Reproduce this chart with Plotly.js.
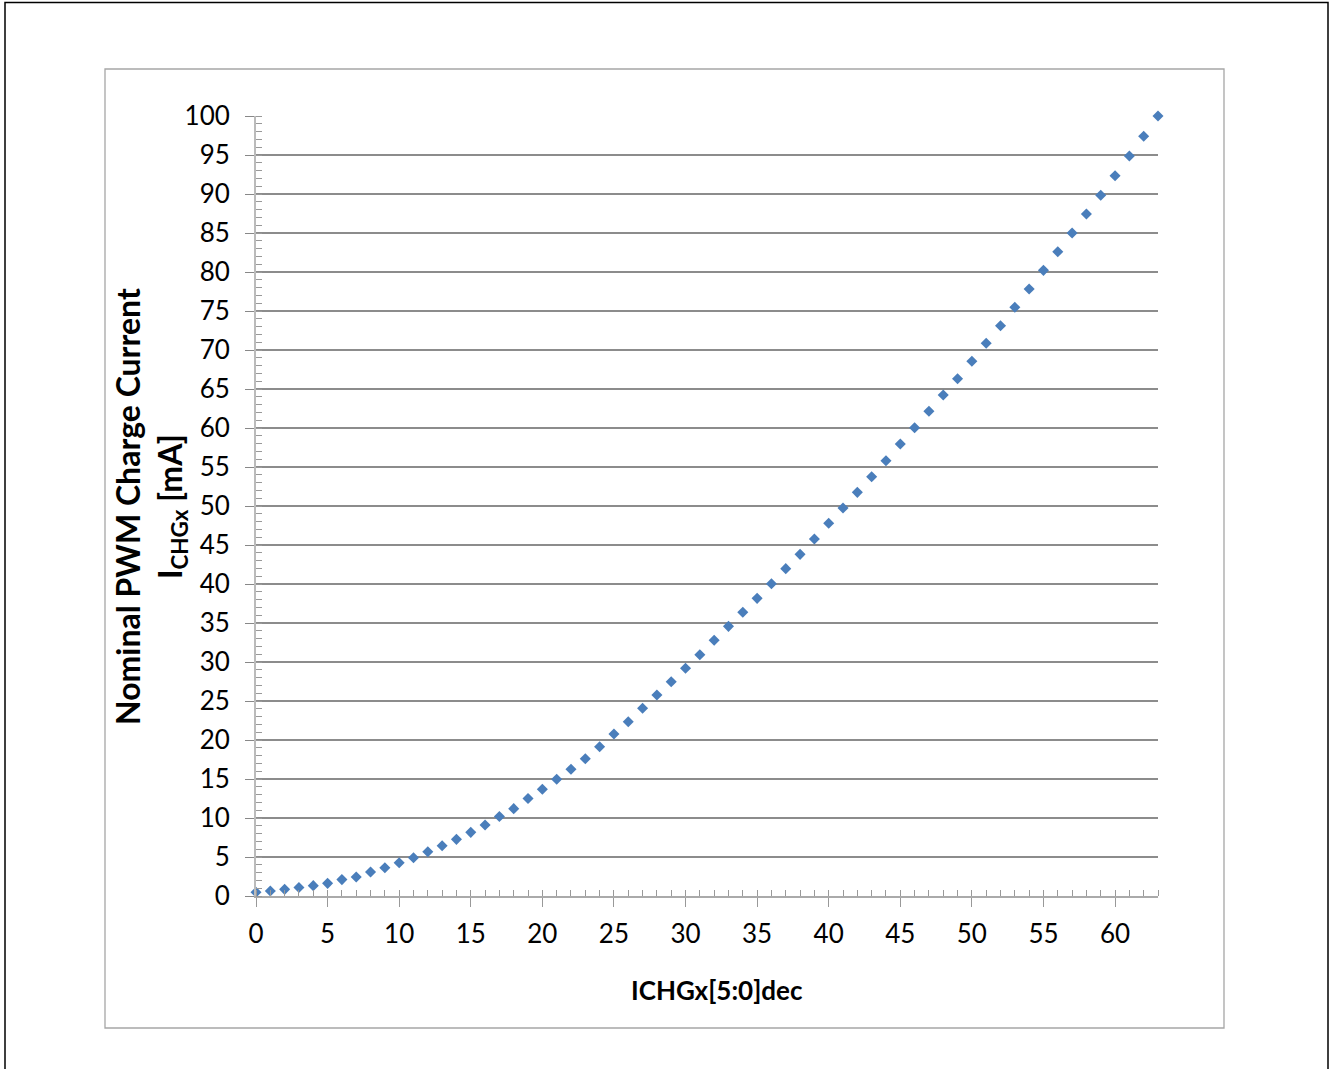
<!DOCTYPE html>
<html>
<head>
<meta charset="utf-8">
<script src="https://cdn.plot.ly/plotly-3.0.1.min.js"></script>
<style>html,body{margin:0;padding:0;background:#fff;}#chart{width:1330px;height:1069px;}</style>
</head>
<body>
<div id="chart"></div>
<script>
// ICHGx[5:0] decimal code
const codes = [0,1,2,3,4,5,6,7,8,9,10,11,12,13,14,15,16,17,18,19,20,21,22,23,24,25,26,27,28,29,30,31,
  32,33,34,35,36,37,38,39,40,41,42,43,44,45,46,47,48,49,50,51,52,53,54,55,56,57,58,59,60,61,62,63];
// Nominal PWM charge current [mA]
const currentmA = [0.47,0.64,0.85,1.10,1.33,1.62,2.10,2.44,3.08,3.63,4.27,4.91,5.68,6.45,7.26,8.16,
  9.10,10.2,11.2,12.5,13.68,14.96,16.24,17.6,19.14,20.77,22.35,24.06,25.77,27.47,29.19,30.94,
  32.78,34.57,36.37,38.16,40.04,41.97,43.8,45.77,47.78,49.74,51.75,53.76,55.81,57.95,60.04,62.14,
  64.23,66.32,68.55,70.86,73.12,75.47,77.82,80.21,82.6,85.0,87.44,89.83,92.35,94.87,97.4,100.0];
const xTickVals = [0,5,10,15,20,25,30,35,40,45,50,55,60];
const yTickVals = [0,5,10,15,20,25,30,35,40,45,50,55,60,65,70,75,80,85,90,95,100];
const xTitle = "ICHGx[5:0]dec";
const yTitle = "Nominal PWM Charge Current<br>I<sub>CHGx</sub> [mA]";

const L = 256, R = 1158, T = 116, B = 896;
const W = R - L, H = B - T;
const px = v => (v - L) / W;
const py = v => (B - v) / H;

const FONT = "Lato, 'Open Sans', sans-serif";

const trace = {
  x: codes, y: currentmA, type: "scatter", mode: "markers",
  marker: {symbol: "diamond", size: 8.5, color: "#4a7ebb"},
  cliponaxis: false, hoverinfo: "x+y"
};

const layout = {
  width: 1330, height: 1069,
  margin: {l: L, r: 1330 - R, t: T, b: 1069 - B},
  paper_bgcolor: "#ffffff", plot_bgcolor: "#ffffff",
  showlegend: false,
  font: {family: FONT, color: "#000"},
  xaxis: {
    range: [0, 63], tickvals: xTickVals, ticktext: xTickVals.map(String),
    ticks: "outside", ticklen: 9, tickwidth: 1, tickcolor: "#999",
    ticklabelstandoff: 5,
    showgrid: false, zeroline: false,
    showline: true, linecolor: "#aaa", linewidth: 2,
    tickfont: {size: 26, family: FONT, color: "#000"},
    minor: {dtick: 1, ticks: "inside", ticklen: 6, tickcolor: "#999", tickwidth: 1, showgrid: false}
  },
  yaxis: {
    range: [0, 100], tickvals: yTickVals, ticktext: yTickVals.map(String),
    ticks: "outside", ticklen: 9, tickwidth: 1, tickcolor: "#888",
    ticklabelstandoff: 10,
    showgrid: true, gridcolor: "#8c8c8c", gridwidth: 1.2,
    zeroline: false,
    showline: true, linecolor: "#bbb", linewidth: 2,
    tickfont: {size: 26, family: FONT, color: "#000"},
    minor: {dtick: 1, ticks: "inside", ticklen: 6, tickcolor: "#999", tickwidth: 1, showgrid: false}
  },
  annotations: [
    {xref: "paper", yref: "paper", x: px(717), y: py(990), text: "<b>" + xTitle + "</b>",
     showarrow: false, xanchor: "center", yanchor: "middle",
     font: {size: 26, family: FONT, color: "#000"}},
    {xref: "paper", yref: "paper", x: px(150), y: py(507), text: "<b>" + yTitle + "</b>",
     showarrow: false, textangle: -90, xanchor: "center", yanchor: "middle",
     font: {size: 32, family: FONT, color: "#000"}}
  ],
  shapes: [
    {type: "rect", xref: "paper", yref: "paper", x0: px(5), x1: px(1328), y0: py(1075), y1: py(2.5),
     line: {color: "#000", width: 1.5}, fillcolor: "rgba(0,0,0,0)", layer: "below"},
    {type: "rect", xref: "paper", yref: "paper", x0: px(105), x1: px(1224), y0: py(1028), y1: py(69),
     line: {color: "#a6a6a6", width: 1.3}, fillcolor: "rgba(0,0,0,0)", layer: "below"}
  ]
};

Plotly.newPlot("chart", [trace], layout, {displayModeBar: false, staticPlot: true});
</script>
</body>
</html>
